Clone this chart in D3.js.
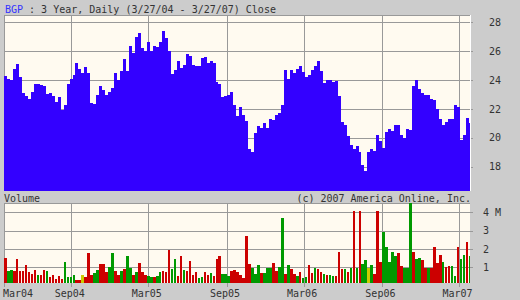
<!DOCTYPE html>
<html>
<head>
<meta charset="utf-8">
<script src="https://cdn.jsdelivr.net/npm/d3@7"></script>
<style>
  body { margin: 0; background: #cccccc; }
  svg { display: block; }
  text { font-family: "DejaVu Sans Mono", monospace; font-size: 10px; fill: #333; }
</style>
</head>
<body>
<svg id="chart" width="520" height="300"></svg>
<script>
// weekly closes, first week starts 3/27/04
var closes = [
  24.27,24.1,24.0,24.8,25.1,24.2,23.1,22.9,22.7,23.2,
  23.7,23.7,23.65,23.6,23.05,23.1,22.9,22.5,22.8,21.9,
  22.3,23.75,24.05,24.35,25.2,24.8,24.5,24.94,24.5,22.4,
  22.35,23.0,23.6,23.29,23.0,23.15,23.45,24.5,24.0,24.6,
  25.45,24.6,26.38,25.85,27.0,27.3,26.25,26.0,26.65,26.0,
  26.4,26.33,26.65,27.4,26.9,26.0,24.4,24.7,25.35,24.85,
  25.05,25.8,25.7,25.05,25.0,24.95,25.5,25.6,25.17,25.3,
  25.2,23.9,23.7,22.8,22.87,23.0,23.15,22.3,21.5,22.1,
  21.6,21.15,19.2,19.0,20.3,20.8,20.7,21.0,20.65,21.3,
  21.2,21.55,21.7,22.3,24.7,24.1,24.7,24.5,24.75,25.0,
  24.55,24.22,24.34,24.72,24.95,25.36,24.6,23.8,24.0,23.99,
  23.9,23.95,22.9,21.1,20.85,20.1,19.5,19.25,19.45,19.0,
  18.1,17.7,19.0,19.25,19.1,20.2,19.8,19.3,20.4,20.6,
  20.5,20.85,20.85,20.2,20.0,20.62,20.57,23.6,24.0,23.4,
  23.1,23.0,22.96,22.7,22.6,22.0,21.3,20.9,21.1,21.33,
  21.32,22.3,22.1,19.85,20.2,21.4,21.0
];

// volume in millions, same weeks
var volumes = [
  1.5,0.8,0.85,0.8,1.45,0.8,0.8,1.1,0.75,0.65,
  0.85,0.6,0.6,0.85,0.8,0.48,0.58,0.34,0.52,0.34,
  1.3,0.45,0.45,0.58,0.3,0.3,0.58,0.48,1.8,0.58,
  0.7,0.85,1.18,1.2,0.76,1.03,1.8,0.8,0.58,0.8,
  0.88,1.63,0.94,0.58,0.76,1.25,0.76,0.58,0.52,0.48,
  0.48,0.5,0.75,0.8,0.76,1.94,0.9,1.43,0.55,1.6,
  0.85,0.78,1.34,0.58,0.76,0.4,0.45,0.76,0.6,0.7,
  0.55,1.45,1.6,0.65,0.62,0.55,0.8,0.85,0.76,0.6,
  0.4,2.7,1.2,0.94,0.65,1.12,0.7,0.7,0.94,0.94,
  1.25,0.8,1.0,3.67,0.65,1.12,0.88,0.65,0.55,0.76,
  0.4,0.48,1.12,0.68,0.94,0.9,0.76,0.63,0.58,0.58,
  0.52,0.52,1.85,0.88,0.88,0.76,0.94,4.07,0.94,4.07,
  1.2,1.4,0.94,1.12,0.62,4.07,1.3,2.94,2.09,1.3,
  1.85,1.6,1.8,1.07,0.94,0.94,4.5,1.85,1.43,1.48,
  1.4,0.94,0.94,0.94,2.12,1.21,1.67,1.3,1.03,1.07,
  1.07,0.52,2.12,1.43,1.67,2.4,1.6
];

// u = up, d = down, n = unchanged
var moves = (
  "duuddddddd" + "dudduddddd" + "uuuuddnddd" + "uuddduuddu" +
  "duududdduu" + "duuddduudd" + "udddduuddu" + "ddduuudddd" +
  "ddduuuduuu" + "dduududdud" + "uudduddudu" + "udddududud" +
  "uunuddduuu" + "uudduuuduu" + "dduddddudd" + "uuduudu"
).split("");

var priceTicks = [18, 20, 22, 24, 26, 28];
var volTicks = [1, 2, 3, 4];
var volTickLabels = ["1", "2", "3", "4 M"];
var monthTicks = ["2004-03-27", "2004-09-01", "2005-03-01", "2005-09-01", "2006-03-01", "2006-09-01", "2007-03-01"];
var monthLabels = ["Mar04", "Sep04", "Mar05", "Sep05", "Mar06", "Sep06", "Mar07"];

var parse = d3.timeParse("%Y-%m-%d");
var start = parse("2004-03-27"), end = parse("2007-03-27");

var weeks = closes.map(function (c, i) {
  return { date: d3.timeDay.offset(start, 7 * i), close: c, vol: volumes[i], move: moves[i] };
});

var moveColor = { u: "#009900", d: "#cc0000", n: "#cccc00" };
var gridColor = "#999999";

var svg = d3.select("#chart");

var x = d3.scaleTime().domain([start, end]).range([4, 470]);
var y = d3.scaleLinear().domain([16.3, 28.52]).range([191, 15]);
var yv = d3.scaleLinear().domain([0, 4]).range([285.6, 212.3]);

function px(v) { return Math.round(v) + 0.5; }

// title
var title = svg.append("text").attr("x", 5).attr("y", 12.5);
title.append("tspan").style("fill", "#3333ff").text("BGP");
title.append("tspan").text(" : 3 Year, Daily (3/27/04 - 3/27/07) Close");

// ---- price panel ----
svg.append("rect").attr("x", 4).attr("y", 15).attr("width", 466).attr("height", 176)
  .attr("fill", "#fffaf0");

svg.append("defs").append("clipPath").attr("id", "priceClip")
  .append("rect").attr("x", 4).attr("y", 15).attr("width", 466).attr("height", 176);
svg.select("defs").append("clipPath").attr("id", "volClip")
  .append("rect").attr("x", 4).attr("y", 203).attr("width", 466).attr("height", 80);

svg.selectAll(".pgrid").data(priceTicks).enter().append("line")
  .attr("class", "pgrid")
  .attr("x1", 4).attr("x2", 473)
  .attr("y1", function (d) { return px(y(d)); })
  .attr("y2", function (d) { return px(y(d)); })
  .attr("stroke", gridColor);

svg.selectAll(".pvgrid").data(monthTicks).enter().append("line")
  .attr("class", "pvgrid")
  .attr("x1", function (d) { return px(x(parse(d))); })
  .attr("x2", function (d) { return px(x(parse(d))); })
  .attr("y1", 15).attr("y2", 191)
  .attr("stroke", gridColor);

svg.append("line").attr("x1", 4).attr("x2", 470).attr("y1", 15.5).attr("y2", 15.5)
  .attr("stroke", gridColor);

var areaData = weeks.concat([{ date: end, close: closes[closes.length - 1] }]);
var area = d3.area()
  .curve(d3.curveStepAfter)
  .x(function (d) { return x(d.date); })
  .y0(191)
  .y1(function (d) { return y(d.close); });

svg.append("path")
  .datum(areaData)
  .attr("d", area)
  .attr("fill", "#3300ff")
  .attr("clip-path", "url(#priceClip)")
  .attr("shape-rendering", "crispEdges");

svg.append("line").attr("x1", 470.5).attr("x2", 470.5).attr("y1", 15).attr("y2", 191)
  .attr("stroke", "#ffffff");

svg.selectAll(".plabel").data(priceTicks).enter().append("text")
  .attr("class", "plabel")
  .attr("x", 489)
  .attr("y", function (d) { return y(d); })
  .attr("dy", "0.36em")
  .text(function (d) { return d; });

// ---- volume panel ----
svg.append("text").attr("x", 4).attr("y", 202).text("Volume");
svg.append("text").attr("x", 471).attr("y", 202).attr("text-anchor", "end")
  .text("(c) 2007 America Online, Inc.");

svg.append("rect").attr("x", 4).attr("y", 203).attr("width", 466).attr("height", 80)
  .attr("fill", "#fffaf0");

svg.append("line").attr("x1", 4).attr("x2", 470).attr("y1", 203.5).attr("y2", 203.5)
  .attr("stroke", gridColor);

svg.selectAll(".vgrid").data(volTicks).enter().append("line")
  .attr("class", "vgrid")
  .attr("x1", 4).attr("x2", 473)
  .attr("y1", function (d) { return px(yv(d)); })
  .attr("y2", function (d) { return px(yv(d)); })
  .attr("stroke", gridColor);

svg.selectAll(".vvgrid").data(monthTicks).enter().append("line")
  .attr("class", "vvgrid")
  .attr("x1", function (d) { return px(x(parse(d))); })
  .attr("x2", function (d) { return px(x(parse(d))); })
  .attr("y1", 203).attr("y2", 287)
  .attr("stroke", gridColor);

var step = x(d3.timeDay.offset(start, 7)) - x(start);

svg.append("g").attr("clip-path", "url(#volClip)")
  .selectAll("rect").data(weeks).enter().append("rect")
  .attr("x", function (d) { return x(d.date); })
  .attr("width", step - 0.4)
  .attr("y", function (d) { return yv(d.vol); })
  .attr("height", function (d) { return 283 - yv(d.vol); })
  .attr("fill", function (d) { return moveColor[d.move]; })
  .attr("shape-rendering", "crispEdges");

svg.selectAll(".vlabel").data(volTicks).enter().append("text")
  .attr("class", "vlabel")
  .attr("x", 483)
  .attr("y", function (d) { return yv(d); })
  .attr("dy", "0.36em")
  .text(function (d, i) { return volTickLabels[i]; });

// month labels under the volume panel
svg.selectAll(".mlabel").data(monthTicks).enter().append("text")
  .attr("class", "mlabel")
  .attr("x", function (d, i) { return i === 0 ? 3 : x(parse(d)) - 1.5; })
  .attr("y", 297)
  .attr("text-anchor", function (d, i) { return i === 0 ? "start" : "middle"; })
  .text(function (d, i) { return monthLabels[i]; });
</script>
</body>
</html>
